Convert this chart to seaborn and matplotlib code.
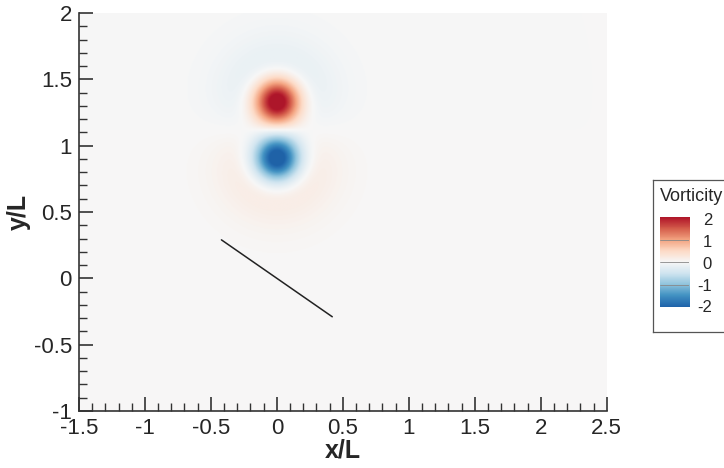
import numpy as np
import matplotlib
matplotlib.use("Agg")
import matplotlib.pyplot as plt
import seaborn as sns
from matplotlib.colors import ListedColormap
from matplotlib.ticker import MultipleLocator

# vortex dipole: centres, peak strength, core and halo radii
vortex_x = [0.0, 0.0]
vortex_y = [1.335, 0.905]
vortex_peak = [2.6, -2.6]
core_radius = [0.17, 0.17]
halo_radius = [0.40, 0.40]

# flat plate end points
plate_x = [-0.42, 0.42]
plate_y = [0.29, -0.29]

x_ticks = [-1.5, -1, -0.5, 0, 0.5, 1, 1.5, 2, 2.5]
y_ticks = [-1, -0.5, 0, 0.5, 1, 1.5, 2]
cbar_levels = [2, 1, 0, -1, -2]

sns.set_style("ticks")
plt.rcParams["font.family"] = ["Liberation Sans", "DejaVu Sans"]

# build the vorticity field on a grid
gx = np.linspace(-1.5, 2.5, 801)
gy = np.linspace(-1.0, 2.0, 601)
X, Y = np.meshgrid(gx, gy)
W = np.zeros_like(X)
for xc, yc, A, a, b in zip(vortex_x, vortex_y, vortex_peak, core_radius, halo_radius):
    r2 = (X - xc) ** 2 + (Y - yc) ** 2
    B = A * (a / b) ** 2
    W += A * np.exp(-r2 / a**2) - B * np.exp(-r2 / b**2)

# RdBu_r without the darkest ends, like the reference legend
full = sns.color_palette("RdBu_r", 256)
cmap = ListedColormap(full[24:232])

fig = plt.figure(figsize=(7.24, 4.68), dpi=100)
ax = fig.add_axes([0.109, 0.122, 0.729, 0.850])
ax.imshow(W, extent=[-1.5, 2.5, -1.0, 2.0], origin="lower", cmap=cmap,
          vmin=-2.0, vmax=2.0, interpolation="bilinear", aspect="auto")
ax.plot(plate_x, plate_y, color="#222222", lw=1.1)

ax.set_xlim(-1.5, 2.5)
ax.set_ylim(-1.0, 2.0)
ax.set_xticks(x_ticks)
ax.set_xticklabels([f"{v:g}" for v in x_ticks])
ax.set_yticks(y_ticks)
ax.set_yticklabels([f"{v:g}" for v in y_ticks])
ax.xaxis.set_minor_locator(MultipleLocator(0.1))
ax.yaxis.set_minor_locator(MultipleLocator(0.1))
ax.tick_params(which="major", direction="in", length=10, width=1.2, labelsize=16,
               color="#333333")
ax.tick_params(axis="x", which="major", pad=5)
ax.tick_params(axis="y", which="major", pad=5)
ax.tick_params(which="minor", direction="in", length=5.5, width=1.0, color="#333333")
for s in ["top", "right"]:
    ax.spines[s].set_visible(False)
for s in ["left", "bottom"]:
    ax.spines[s].set_linewidth(1.2)
    ax.spines[s].set_color("#333333")
ax.set_xlabel("x/L", fontsize=18, fontweight="bold", labelpad=0)
ax.set_ylabel("y/L", fontsize=18, fontweight="bold", labelpad=2)

# legend box
box = fig.add_axes([0.902, 0.291, 0.2, 0.325])
box.set_xticks([])
box.set_yticks([])
for s in box.spines.values():
    s.set_color("#555555")
    s.set_linewidth(0.9)
box.text(0.045, 0.89, "Vorticity", transform=box.transAxes, fontsize=13,
         ha="left", va="center")

cax = fig.add_axes([0.911, 0.344, 0.041, 0.192])
grad = np.linspace(-2, 2, 200).reshape(-1, 1)
cax.imshow(grad, extent=[0, 1, -2, 2], origin="lower", cmap=cmap,
           vmin=-2.0, vmax=2.0, aspect="auto")
for lv in [1, 0, -1]:
    cax.axhline(lv, color="#888888", lw=0.6)
cax.set_xlim(0, 1)
cax.set_ylim(-2, 2)
cax.set_xticks([])
cax.set_yticks([])
for s in cax.spines.values():
    s.set_visible(False)
label_pos = [v * 0.97 - 0.1 for v in cbar_levels]
for v, p in zip(cbar_levels, label_pos):
    cax.text(1.77, p, f"{v}", ha="right", va="center", fontsize=12,
             transform=cax.get_yaxis_transform())

fig.savefig("out.png", dpi=100)
